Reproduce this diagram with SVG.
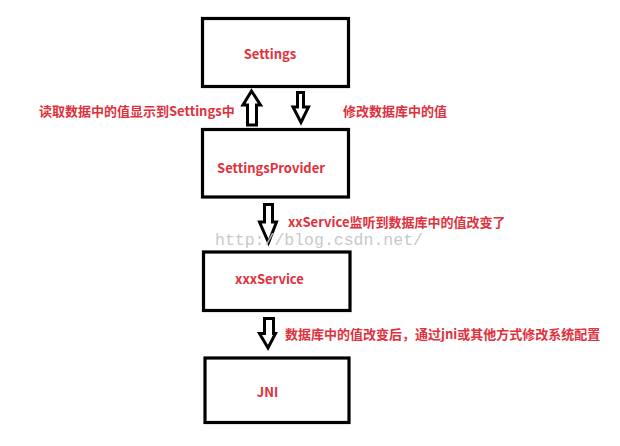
<svg xmlns="http://www.w3.org/2000/svg" width="620" height="446" viewBox="0 0 620 446">
<style>
.box{fill:#fff;stroke:#000;stroke-width:3.2}
.arr{fill:#fff;stroke:#000;stroke-width:3;stroke-linejoin:miter}
.t{font-family:"Noto Sans CJK SC","Microsoft YaHei",sans-serif;font-weight:bold;font-size:13px;fill:#e0303c}
.wm{font-family:"Liberation Mono","Courier New",monospace;font-size:16.5px;fill:#c9c9c9}
</style>
<rect width="620" height="446" fill="#fff"/>
<g id="settings">
<rect class="box" x="202.5" y="18.5" width="146" height="68"/>
<text class="t" x="270" y="59" text-anchor="middle">Settings</text>
</g>
<g id="settingsprovider">
<rect class="box" x="202.5" y="129.5" width="146" height="67.5"/>
<text class="t" x="271" y="173" text-anchor="middle">SettingsProvider</text>
</g>
<g id="xxxservice">
<rect class="box" x="203.5" y="252" width="146.5" height="58.5"/>
<text class="t" x="269.5" y="284" text-anchor="middle">xxxService</text>
</g>
<g id="jni">
<rect class="box" x="205" y="358" width="144" height="64.5"/>
<text class="t" x="267.5" y="397" text-anchor="middle">JNI</text>
</g>
<g id="connectors">
<polygon class="arr" points="251.5,91 243,105 247.5,105 247.5,125 256.5,125 256.5,105 260.5,105"/>
<polygon class="arr" points="297.5,92.5 303.5,92.5 303.5,107 308.5,107 301,122.5 293,107 297.5,107"/>
<polygon class="arr" points="264.5,204.5 272.5,204.5 272.5,222 276.5,222 268.5,242.5 259.5,222 264.5,222"/>
<polygon class="arr" points="264.5,318.5 273.5,318.5 273.5,333.5 275.5,333.5 268,348 259.5,333.5 264.5,333.5"/>
</g>
<g id="labels">
<text class="t" x="39" y="116">读取数据中的值显示到Settings中</text>
<text class="t" x="343" y="116">修改数据库中的值</text>
<text class="wm" x="215" y="245">http://blog.csdn.net/</text>
<text class="t" x="288" y="227">xxService监听到数据库中的值改变了</text>
<text class="t" x="285" y="339">数据库中的值改变后，通过jni或其他方式修改系统配置</text>
</g>
</svg>
